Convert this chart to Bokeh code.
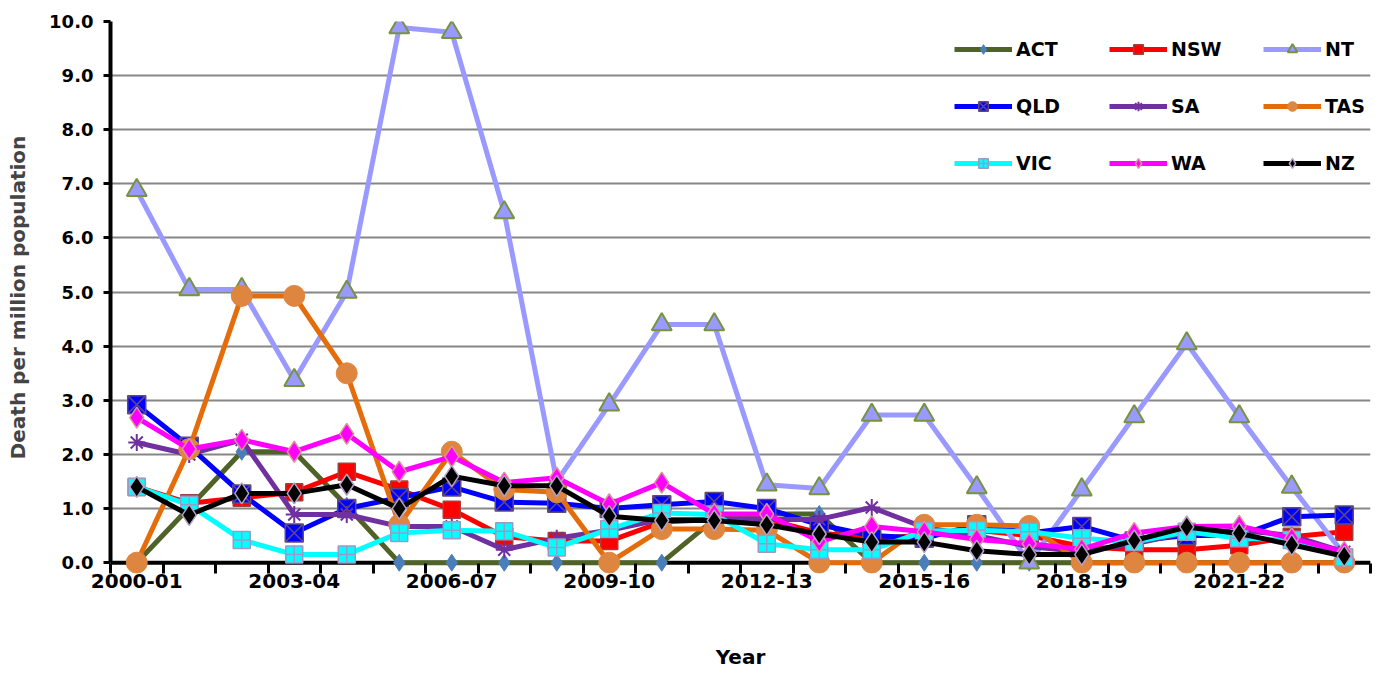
from bokeh.plotting import figure
from bokeh.models import Range1d, FixedTicker, Legend, LegendItem, Title, Span, NumeralTickFormatter
from bokeh.embed import file_html
from bokeh.resources import INLINE

years = ["2000-01", "2001-02", "2002-03", "2003-04", "2004-05", "2005-06", "2006-07", "2007-08",
         "2008-09", "2009-10", "2010-11", "2011-12", "2012-13", "2013-14", "2014-15", "2015-16",
         "2016-17", "2017-18", "2018-19", "2019-20", "2020-21", "2021-22", "2022-23", "2023-24"]
tick_labels = ["2000-01", "2003-04", "2006-07", "2009-10", "2012-13", "2015-16", "2018-19", "2021-22"]

act = [0, 1.02, 2.05, 2.05, 1.05, 0, 0, 0, 0, 0, 0, 0.8, 0.9, 0.9, 0, 0, 0, 0, 0, 0, 0, 0, 0, 0]
nsw = [1.4, 1.1, 1.2, 1.3, 1.68, 1.35, 0.98, 0.48, 0.4, 0.4, 0.75, 0.8, 0.8, 0.55, 0.45, 0.5,
       0.6, 0.5, 0.3, 0.24, 0.24, 0.32, 0.48, 0.57]
nt = [6.88, 5.05, 5.05, 3.37, 5.0, 9.89, 9.8, 6.47, 1.5, 2.92, 4.4, 4.4, 1.44, 1.37, 2.73, 2.73,
      1.39, 0.0, 1.35, 2.7, 4.05, 2.7, 1.4, 0.15]
qld = [2.92, 2.15, 1.27, 0.55, 1.0, 1.2, 1.4, 1.12, 1.1, 1.0, 1.07, 1.13, 1.0, 0.7, 0.5, 0.45,
       0.7, 0.55, 0.67, 0.4, 0.5, 0.5, 0.85, 0.88]
sa = [2.22, 2.0, 2.27, 0.89, 0.89, 0.67, 0.67, 0.24, 0.45, 0.6, 0.8, 0.8, 0.8, 0.8, 1.02, 0.65,
      0.5, 0.3, 0.2, 0.35, 0.55, 0.6, 0.5, 0.2]
tas = [0, 2.1, 4.93, 4.93, 3.5, 0.7, 2.05, 1.35, 1.3, 0, 0.62, 0.62, 0.6, 0, 0, 0.7, 0.7, 0.68,
       0, 0, 0, 0, 0, 0]
vic = [1.4, 1.07, 0.42, 0.15, 0.15, 0.55, 0.6, 0.58, 0.28, 0.62, 0.92, 0.89, 0.35, 0.24, 0.24,
       0.58, 0.6, 0.57, 0.45, 0.38, 0.57, 0.45, 0.42, 0.1]
wa = [2.68, 2.1, 2.27, 2.05, 2.38, 1.68, 1.96, 1.48, 1.57, 1.08, 1.48, 0.9, 0.9, 0.39, 0.67, 0.57,
      0.43, 0.35, 0.25, 0.55, 0.67, 0.68, 0.45, 0.2]
nz = [1.4, 0.88, 1.28, 1.28, 1.44, 1.0, 1.6, 1.42, 1.42, 0.86, 0.78, 0.78, 0.7, 0.53, 0.38, 0.38,
      0.22, 0.15, 0.15, 0.41, 0.66, 0.54, 0.33, 0.12]

FONT = "DejaVu Sans"
x = list(range(len(years)))

p = figure(frame_width=1260, frame_height=552,
           x_range=Range1d(-0.5, len(years) - 0.5), y_range=Range1d(-0.2, 10.0),
           output_backend="svg", toolbar_location=None,
           min_border_left=110, min_border_right=4, min_border_top=21, min_border_bottom=98)
p.outline_line_color = None
p.background_fill_color = "white"

p.xgrid.visible = False
p.ygrid.ticker = FixedTicker(ticks=list(range(11)))
p.ygrid.grid_line_color = "#868686"
p.ygrid.grid_line_width = 2

# x axis baseline at zero, drawn beneath the series
p.add_layout(Span(location=0, dimension="width", line_color="black", line_width=4, level="underlay"))

ya = p.yaxis[0]
ya.ticker = FixedTicker(ticks=list(range(11)))
ya.formatter = NumeralTickFormatter(format="0.0")
ya.bounds = (0, 10)
ya.axis_line_width = 4
ya.axis_line_color = "black"
ya.major_tick_out = 7
ya.major_tick_in = 0
ya.major_tick_line_width = 3
ya.minor_tick_out = 0
ya.minor_tick_in = 0
ya.major_label_standoff = 10
ya.major_label_text_font = FONT
ya.major_label_text_font_style = "bold"
ya.major_label_text_font_size = "18px"
ya.major_label_text_color = "black"
ya.axis_label = "Death per million population"
ya.axis_label_text_font = FONT
ya.axis_label_text_font_style = "bold"
ya.axis_label_text_font_size = "20px"
ya.axis_label_standoff = 16

xa = p.xaxis[0]
major = [years.index(t) for t in tick_labels]
xa.ticker = FixedTicker(ticks=major, minor_ticks=[i - 0.5 for i in range(len(years) + 1)])
xa.major_label_overrides = {i: years[i] for i in major}
xa.axis_line_color = None
xa.major_tick_out = 0
xa.major_tick_in = 0
xa.minor_tick_out = 0
xa.minor_tick_in = 10
xa.minor_tick_line_width = 3
xa.minor_tick_line_color = "black"
xa.major_label_standoff = 0
xa.major_label_text_font = FONT
xa.major_label_text_font_style = "bold"
xa.major_label_text_font_size = "20px"
xa.major_label_text_color = "black"
xa.axis_label = " "
xa.axis_label_standoff = 22
xa.axis_label_text_font_size = "20px"

series = [
    ("ACT", act, "#4F6228", dict(marker="diamond", size=17, fill_color="#4A7EBB", line_color="#4A7EBB", line_width=1)),
    ("NSW", nsw, "#FF0000", dict(marker="square", size=17, fill_color="#FF0000", line_color="#A0403D", line_width=1.5)),
    ("NT", nt, "#9999FF", dict(marker="triangle", size=20, fill_color="#9999FF", line_color="#77933C", line_width=2)),
    ("QLD", qld, "#0000FF", dict(marker="square_x", size=18, fill_color="#0000FF", line_color="#604A7B", line_width=1.5)),
    ("SA", sa, "#7030A0", dict(marker="asterisk", size=17, fill_color="#7030A0", line_color="#7030A0", line_width=2)),
    ("TAS", tas, "#E46C0A", dict(marker="circle", size=21, fill_color="#DE8640", line_color="#DE8640", line_width=1)),
    ("VIC", vic, "#00FFFF", dict(marker="square_cross", size=17, fill_color="#00FFFF", line_color="#9A9AC8", line_width=1.5)),
    ("WA", wa, "#FF00FF", dict(marker="diamond", size=21, fill_color="#FF00FF", line_color="#D99694", line_width=1.5)),
    ("NZ", nz, "#000000", dict(marker="diamond", size=21, fill_color="#000000", line_color="#B3A2C7", line_width=1.5)),
]

items = {}
for name, vals, color, mk in series:
    rl = p.line(x, vals, line_color=color, line_width=5, line_join="round")
    rm = p.scatter(x, vals, **mk)
    items[name] = LegendItem(label=name, renderers=[rl, rm])

columns = [["ACT", "QLD", "VIC"], ["NSW", "SA", "WA"], ["NT", "TAS", "NZ"]]
col_x = [844, 999, 1153]
for cx, names in zip(col_x, columns):
    lg = Legend(items=[items[n] for n in names], location=(cx, 398), orientation="vertical",
                glyph_width=58, glyph_height=24, label_height=24, spacing=33,
                padding=0, margin=0, border_line_alpha=0, background_fill_alpha=0,
                label_standoff=4, label_text_font=FONT, label_text_font_style="bold",
                label_text_font_size="19px", label_text_color="black")
    p.add_layout(lg)

p.add_layout(Title(text="Year", align="center", text_font=FONT, text_font_style="bold",
                   text_font_size="20px", text_color="black"), "below")

open("out.html", "w").write(file_html(p, INLINE))
